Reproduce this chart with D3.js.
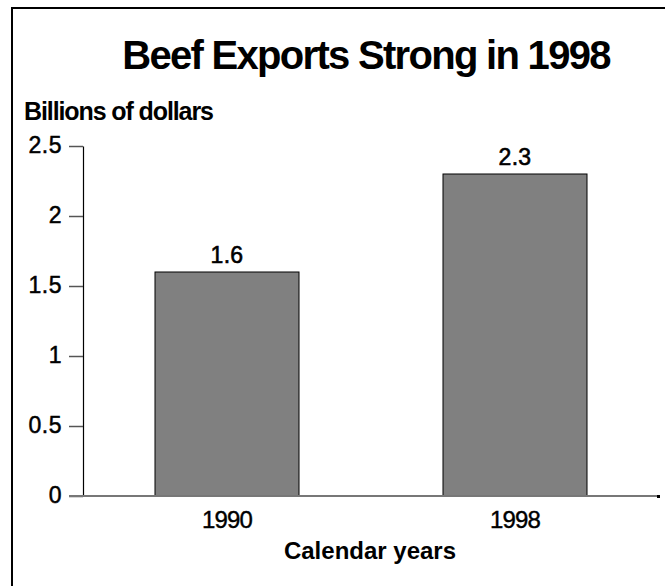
<!DOCTYPE html>
<html>
<head>
<meta charset="utf-8">
<script src="https://cdn.jsdelivr.net/npm/d3@7"></script>
<style>
  body { margin: 0; background: #fff; }
  text { font-family: Arial, "Liberation Sans", sans-serif; fill: #000; }
</style>
</head>
<body>
<div id="chart"></div>
<script>
const years = ['1990', '1998'];
const exports = [1.6, 2.3];
const yTicks = [0, 0.5, 1, 1.5, 2, 2.5];
const yTickLabels = ['0', '0.5', '1', '1.5', '2', '2.5'];

const W = 665, H = 586;
var svg = d3.select('#chart').append('svg')
    .attr('width', W)
    .attr('height', H);

// frame (right and bottom edges fall outside the picture)
svg.append('path')
    .attr('d', 'M12,586 V8 H665')
    .attr('fill', 'none')
    .attr('stroke', '#000')
    .attr('stroke-width', 2);

var x = d3.scaleBand()
    .domain(years)
    .range([83, 659])
    .paddingInner(0.5)
    .paddingOuter(0.25);
var y = d3.scaleLinear()
    .domain([0, 2.5])
    .range([496, 146]);

svg.append('text')
    .attr('x', 366).attr('y', 69)
    .attr('text-anchor', 'middle')
    .attr('font-size', 40).attr('font-weight', 'bold')
    .attr('letter-spacing', -1.7)
    .text('Beef Exports Strong in 1998');

svg.append('text')
    .attr('x', 24).attr('y', 120)
    .attr('font-size', 25).attr('font-weight', 'bold')
    .attr('letter-spacing', -1.1)
    .text('Billions of dollars');

// y axis
var yAxis = svg.append('g')
    .attr('transform', 'translate(83,0)')
    .call(d3.axisLeft(y).tickValues(yTicks).tickSize(14).tickSizeOuter(0)
        .tickFormat((d, i) => yTickLabels[i]));
yAxis.select('.domain').attr('stroke', '#000').attr('stroke-width', 1.2);
yAxis.selectAll('.tick line').attr('stroke', '#555').attr('stroke-width', 1.5);
yAxis.selectAll('.tick text')
    .attr('x', -21).attr('dy', '0.3em')
    .attr('font-size', 23)
    .attr('letter-spacing', 0.5)
    .attr('font-family', 'Arial, "Liberation Sans", sans-serif')
    .attr('fill', '#000')
    .attr('stroke', '#000').attr('stroke-width', 0.5);

// bars
svg.selectAll('rect.bar')
    .data(exports)
    .enter().append('rect')
    .attr('class', 'bar')
    .attr('x', (d, i) => x(years[i]))
    .attr('y', d => y(d))
    .attr('width', x.bandwidth())
    .attr('height', d => y(0) - y(d))
    .attr('fill', '#808080')
    .attr('stroke', '#000')
    .attr('stroke-width', 1);

// x axis baseline
svg.append('line')
    .attr('x1', 69).attr('x2', 659)
    .attr('y1', y(0)).attr('y2', y(0))
    .attr('stroke', '#777')
    .attr('stroke-width', 2);
svg.append('rect')
    .attr('x', 657).attr('y', y(0) - 1).attr('width', 3).attr('height', 3)
    .attr('fill', '#000');

// value labels
svg.selectAll('text.val')
    .data(exports)
    .enter().append('text')
    .attr('class', 'val')
    .attr('x', (d, i) => x(years[i]) + x.bandwidth() / 2)
    .attr('y', d => y(d) - 9)
    .attr('text-anchor', 'middle')
    .attr('font-size', 23)
    .attr('letter-spacing', 0.3)
    .attr('stroke', '#000').attr('stroke-width', 0.6)
    .text(d => d.toFixed(1));

// category labels
svg.selectAll('text.cat')
    .data(years)
    .enter().append('text')
    .attr('class', 'cat')
    .attr('x', d => x(d) + x.bandwidth() / 2)
    .attr('y', 528)
    .attr('text-anchor', 'middle')
    .attr('font-size', 24)
    .attr('letter-spacing', -0.8)
    .attr('stroke', '#000').attr('stroke-width', 0.4)
    .text(d => d);

svg.append('text')
    .attr('x', 370).attr('y', 559)
    .attr('text-anchor', 'middle')
    .attr('font-size', 24).attr('font-weight', 'bold')
    .text('Calendar years');
</script>
</body>
</html>
